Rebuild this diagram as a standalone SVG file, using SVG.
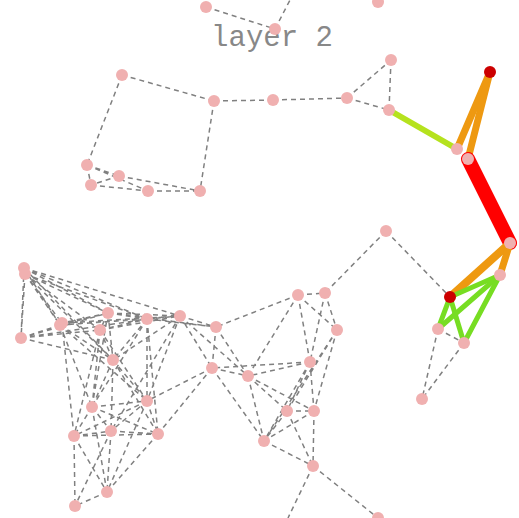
<svg xmlns="http://www.w3.org/2000/svg" width="519" height="518" viewBox="0 0 519 518">
<style>
.e{stroke:#808080;stroke-width:1.5;stroke-dasharray:5,4;fill:none}
.c{fill:none;stroke-linecap:round}
.n{fill:#f0b0b0}
.d{fill:#cc0000}
.t{font-family:"Liberation Mono","DejaVu Sans Mono",monospace;font-size:29px;fill:#888888}
</style>
<rect width="519" height="518" fill="#ffffff"/>
<text class="t" x="272" y="46" text-anchor="middle">layer 2</text>
<g id="connectors">
<g id="dashed">
<path class="e" d="M206,7L275,29 M275,29L290,0 M122,75L214,101 M122,75L87,165 M214,101L273,100 M273,100L347,98 M347,98L391,60 M347,98L389,110 M391,60L389,110 M214,101L200,191 M87,165L91,185 M87,165L119,176 M87,165L148,191 M119,176L91,185 M119,176L200,191 M91,185L148,191 M148,191L200,191"/>
<path class="e" d="M386,231L325,293 M386,231L450,297 M438,329L464,343 M438,329L422,399 M464,343L422,399"/>
<path class="e" d="M298,295L325,293 M298,295L248,376 M298,295L216,327 M298,295L310,362 M298,295L337,330 M325,293L310,362 M325,293L337,330 M337,330L314,411 M337,330L287,411 M337,330L264,441 M310,362L248,376 M310,362L212,368 M310,362L287,411 M310,362L314,411 M310,362L264,441 M248,376L287,411 M248,376L314,411 M248,376L264,441 M287,411L314,411 M287,411L313,466 M314,411L313,466 M264,441L313,466 M287,411L264,441 M314,411L264,441 M313,466L378,518 M313,466L288,518"/>
<path class="e" d="M24,268L21,338 M25,274L21,338 M24,268L108,313 M25,274L108,313 M24,268L147,319 M25,274L147,319 M24,268L180,316 M24,268L60,325 M25,274L60,325 M25,274L62,323 M24,268L113,360 M25,274L113,360 M25,274L100,330 M21,338L60,325 M21,338L108,313 M21,338L100,330 M21,338L113,360 M21,338L147,319 M108,313L60,325 M108,313L62,323 M108,313L100,330 M108,313L147,319 M108,313L180,316 M108,313L216,327 M108,313L113,360 M108,313L92,407 M60,325L147,319 M60,325L180,316 M62,323L180,316 M60,325L92,407 M60,325L113,360 M62,323L74,436 M60,325L147,401 M100,330L147,319 M100,330L180,316 M100,330L92,407 M100,330L74,436 M100,330L147,401 M100,330L113,360 M147,319L180,316 M147,319L216,327 M147,319L113,360 M147,319L147,401 M147,319L158,434 M147,319L92,407 M180,316L216,327 M180,316L113,360 M180,316L212,368 M180,316L147,401 M180,316L111,431 M180,316L248,376 M216,327L212,368 M216,327L248,376 M113,360L92,407 M113,360L147,401 M113,360L111,431 M113,360L158,434 M212,368L147,401 M212,368L158,434 M212,368L248,376 M212,368L264,441 M92,407L147,401 M92,407L74,436 M92,407L111,431 M92,407L158,434 M92,407L107,492 M147,401L111,431 M147,401L158,434 M147,401L74,436 M147,401L107,492 M74,436L111,431 M74,436L158,434 M74,436L107,492 M74,436L75,506 M111,431L158,434 M111,431L107,492 M111,431L75,506 M158,434L107,492 M107,492L75,506"/>
</g>
<g id="colored">
<line class="c" x1="389" y1="110" x2="457" y2="149" stroke="#b5e21e" stroke-width="6"/>
<line class="c" x1="490" y1="72" x2="457" y2="149" stroke="#ee9911" stroke-width="7"/>
<line class="c" x1="490" y1="72" x2="468" y2="159" stroke="#ee9911" stroke-width="7"/>
<line class="c" x1="468" y1="159" x2="510" y2="243" stroke="#ff0000" stroke-width="14"/>
<line class="c" x1="510" y1="243" x2="450" y2="297" stroke="#ee9911" stroke-width="8"/>
<line class="c" x1="510" y1="243" x2="500" y2="275" stroke="#ee9911" stroke-width="7"/>
<line class="c" x1="450" y1="297" x2="500" y2="275" stroke="#77dd22" stroke-width="5"/>
<line class="c" x1="450" y1="297" x2="438" y2="329" stroke="#77dd22" stroke-width="5"/>
<line class="c" x1="450" y1="297" x2="464" y2="343" stroke="#77dd22" stroke-width="5"/>
<line class="c" x1="500" y1="275" x2="438" y2="329" stroke="#77dd22" stroke-width="5"/>
<line class="c" x1="500" y1="275" x2="464" y2="343" stroke="#77dd22" stroke-width="5"/>
</g>
</g>
<g id="nodes">
<g id="nA"><circle class="n" cx="206" cy="7" r="6"/></g>
<g id="nB"><circle class="n" cx="275" cy="29" r="6"/></g>
<g id="nC"><circle class="n" cx="378" cy="2" r="6"/></g>
<g id="nD"><circle class="n" cx="122" cy="75" r="6"/></g>
<g id="nE"><circle class="n" cx="214" cy="101" r="6"/></g>
<g id="nF"><circle class="n" cx="273" cy="100" r="6"/></g>
<g id="nG"><circle class="n" cx="347" cy="98" r="6"/></g>
<g id="nH"><circle class="n" cx="391" cy="60" r="6"/></g>
<g id="nI"><circle class="n" cx="389" cy="110" r="6"/></g>
<g id="nJ"><circle class="n" cx="87" cy="165" r="6"/></g>
<g id="nK"><circle class="n" cx="119" cy="176" r="6"/></g>
<g id="nL"><circle class="n" cx="91" cy="185" r="6"/></g>
<g id="nM"><circle class="n" cx="148" cy="191" r="6"/></g>
<g id="nN"><circle class="n" cx="200" cy="191" r="6"/></g>
<g id="nP"><circle class="n" cx="457" cy="149" r="6"/></g>
<g id="nQ"><circle class="d" cx="490" cy="72" r="6"/></g>
<g id="nR"><circle class="n" cx="468" cy="159" r="6"/></g>
<g id="nS"><circle class="n" cx="510" cy="243" r="6"/></g>
<g id="nX"><circle class="n" cx="386" cy="231" r="6"/></g>
<g id="nT"><circle class="d" cx="450" cy="297" r="6"/></g>
<g id="nU"><circle class="n" cx="500" cy="275" r="6"/></g>
<g id="nV"><circle class="n" cx="438" cy="329" r="6"/></g>
<g id="nW"><circle class="n" cx="464" cy="343" r="6"/></g>
<g id="nY"><circle class="n" cx="422" cy="399" r="6"/></g>
<g id="m1"><circle class="n" cx="298" cy="295" r="6"/></g>
<g id="m2"><circle class="n" cx="325" cy="293" r="6"/></g>
<g id="m3"><circle class="n" cx="337" cy="330" r="6"/></g>
<g id="m4"><circle class="n" cx="310" cy="362" r="6"/></g>
<g id="m5"><circle class="n" cx="287" cy="411" r="6"/></g>
<g id="m6"><circle class="n" cx="314" cy="411" r="6"/></g>
<g id="m7"><circle class="n" cx="264" cy="441" r="6"/></g>
<g id="m8"><circle class="n" cx="313" cy="466" r="6"/></g>
<g id="m9"><circle class="n" cx="378" cy="518" r="6"/></g>
<g id="m10"><circle class="n" cx="248" cy="376" r="6"/></g>
<g id="n1"><circle class="n" cx="24" cy="268" r="6"/></g>
<g id="n2"><circle class="n" cx="25" cy="274" r="6"/></g>
<g id="n3"><circle class="n" cx="21" cy="338" r="6"/></g>
<g id="n4"><circle class="n" cx="108" cy="313" r="6"/></g>
<g id="n5a"><circle class="n" cx="60" cy="325" r="6"/></g>
<g id="n5b"><circle class="n" cx="62" cy="323" r="6"/></g>
<g id="n6"><circle class="n" cx="100" cy="330" r="6"/></g>
<g id="n7"><circle class="n" cx="147" cy="319" r="6"/></g>
<g id="n8"><circle class="n" cx="180" cy="316" r="6"/></g>
<g id="n9"><circle class="n" cx="216" cy="327" r="6"/></g>
<g id="n10"><circle class="n" cx="113" cy="360" r="6"/></g>
<g id="n11"><circle class="n" cx="212" cy="368" r="6"/></g>
<g id="n12"><circle class="n" cx="92" cy="407" r="6"/></g>
<g id="n13"><circle class="n" cx="147" cy="401" r="6"/></g>
<g id="n14"><circle class="n" cx="74" cy="436" r="6"/></g>
<g id="n15"><circle class="n" cx="111" cy="431" r="6"/></g>
<g id="n16"><circle class="n" cx="158" cy="434" r="6"/></g>
<g id="n17"><circle class="n" cx="107" cy="492" r="6"/></g>
<g id="n18"><circle class="n" cx="75" cy="506" r="6"/></g>
</g>
</svg>
